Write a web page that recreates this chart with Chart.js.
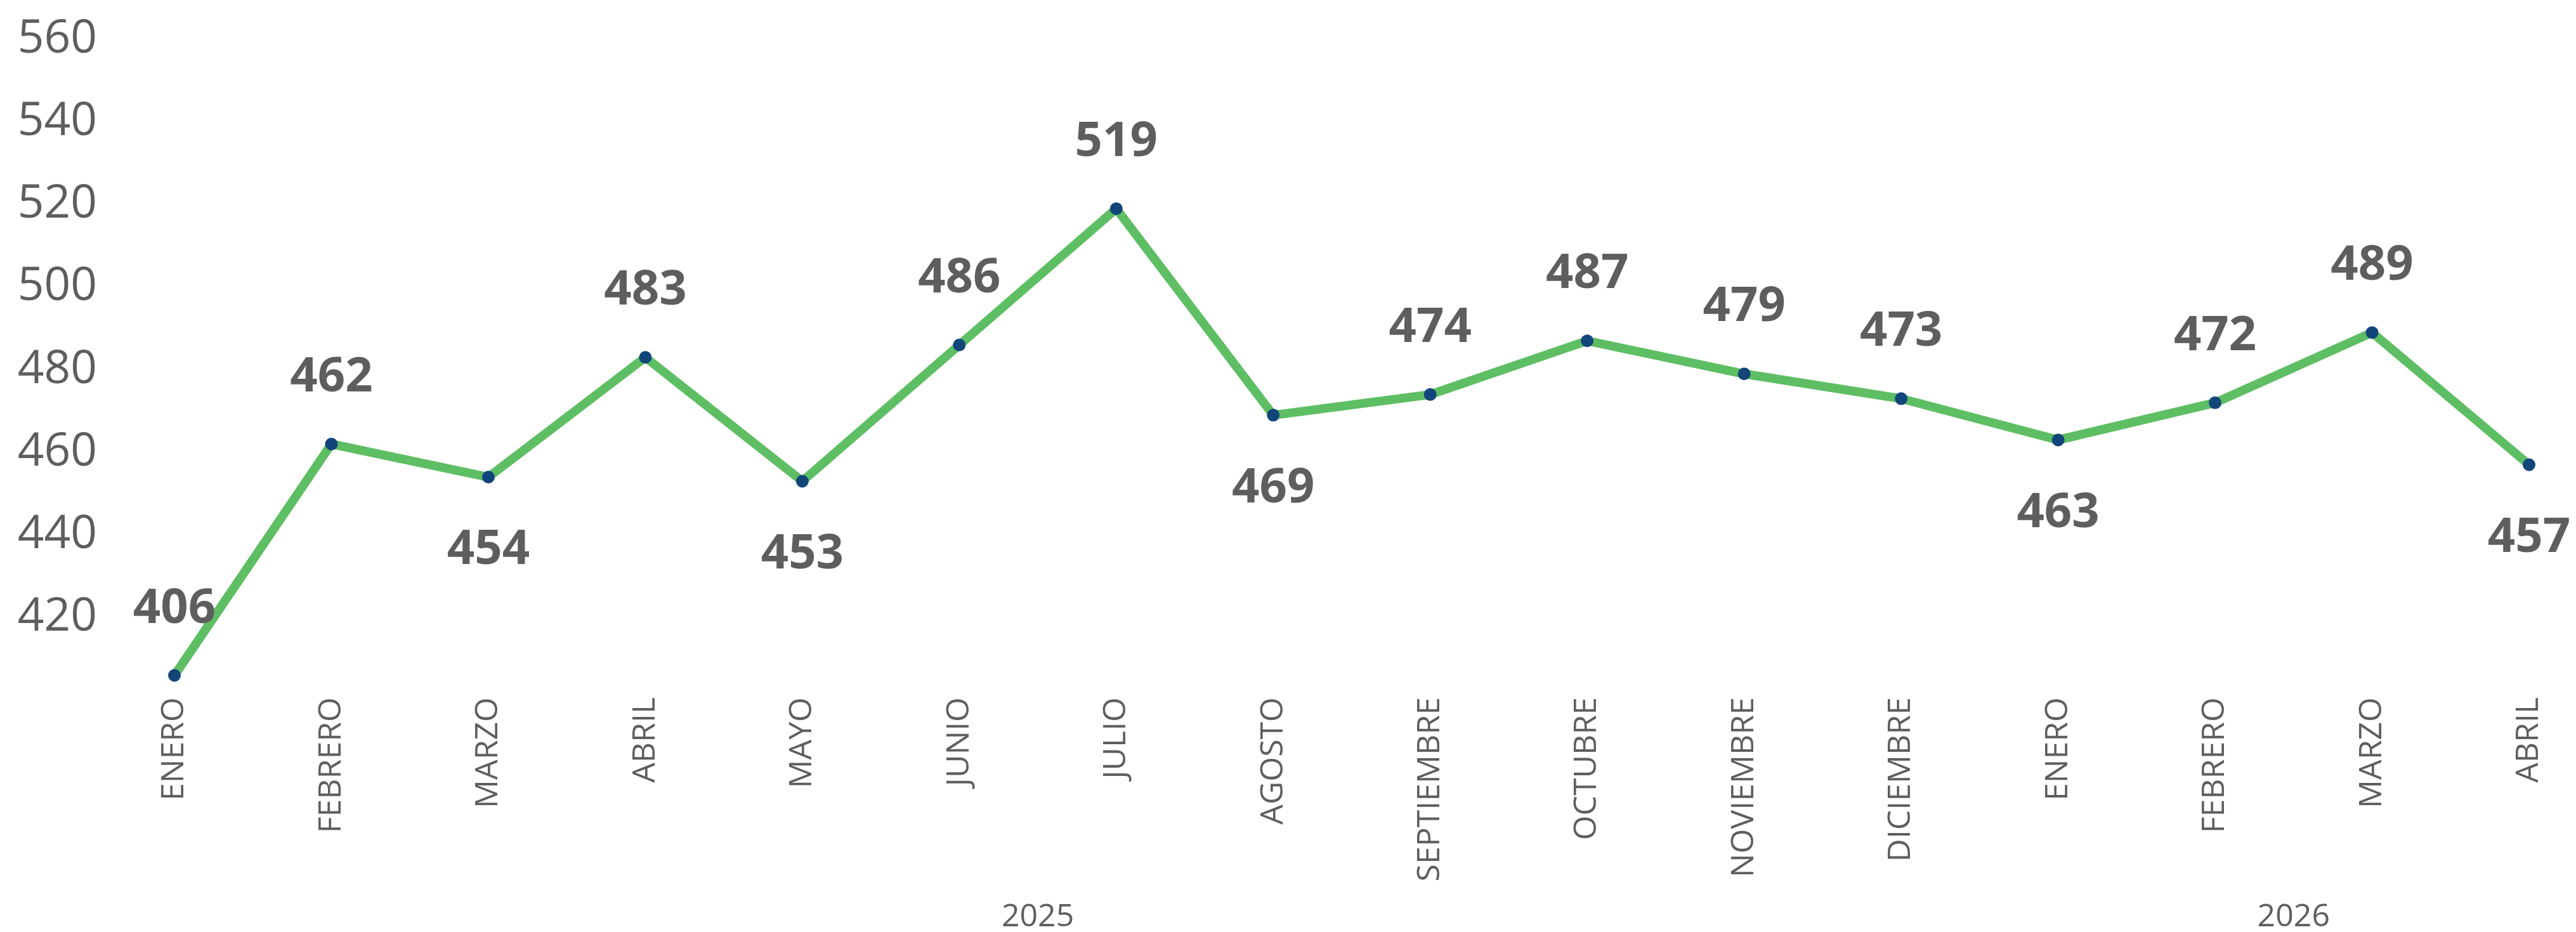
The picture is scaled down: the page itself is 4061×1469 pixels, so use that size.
<!DOCTYPE html>
<html>
<head>
<meta charset="utf-8">
<script src="https://cdn.jsdelivr.net/npm/chart.js@4/dist/chart.umd.min.js"></script>
<style>
  html, body { margin: 0; padding: 0; background: #fff; }
  #wrap { width: 4061px; height: 1469px; }
</style>
</head>
<body>
<div id="wrap"><canvas id="lineChart" width="4061" height="1469"></canvas></div>
<script>
// Data
const months = ["ENERO", "FEBRERO", "MARZO", "ABRIL", "MAYO", "JUNIO", "JULIO", "AGOSTO",
  "SEPTIEMBRE", "OCTUBRE", "NOVIEMBRE", "DICIEMBRE", "ENERO", "FEBRERO", "MARZO", "ABRIL"];
const years = ["2025", "2026"];
const monthsPerYear = [12, 4];
const values = [406, 462, 454, 483, 453, 486, 519, 469, 474, 487, 479, 473, 463, 472, 489, 457];
const yTicks = [420, 440, 460, 480, 500, 520, 540, 560];

const textColor = "#5E5E5E";

// Value labels above / below each point (centred on the digits' cap height)
const valueLabels = {
  id: "valueLabels",
  afterDatasetsDraw(chart, args, opts) {
    const ctx = chart.ctx;
    const meta = chart.getDatasetMeta(0);
    ctx.save();
    ctx.font = "bold 76px 'Open Sans'";
    ctx.fillStyle = textColor;
    ctx.textAlign = "center";
    ctx.textBaseline = "alphabetic";
    const half = 76 * 0.714 / 2;
    meta.data.forEach((pt, i) => {
      const dy = opts.below.includes(i) ? opts.offset : -opts.offset;
      ctx.fillText(String(values[i]), pt.x, pt.y + dy + half);
    });
    ctx.restore();
  }
};

// Year group labels under the month labels
const yearLabels = {
  id: "yearLabels",
  afterDraw(chart, args, opts) {
    const ctx = chart.ctx;
    const x = chart.scales.x;
    ctx.save();
    ctx.font = "50px 'Open Sans'";
    ctx.fillStyle = textColor;
    ctx.textAlign = "center";
    ctx.textBaseline = "middle";
    let start = 0;
    years.forEach((yr, k) => {
      const end = start + monthsPerYear[k] - 1;
      const cx = (x.getPixelForValue(start) + x.getPixelForValue(end)) / 2;
      ctx.fillText(yr, cx, opts.y);
      start = end + 1;
    });
    ctx.restore();
  }
};

const ctx = document.getElementById("lineChart").getContext("2d");
const lineChart = new Chart(ctx, {
  type: "line",
  data: {
    labels: months,
    datasets: [
      {
        data: values,
        borderColor: "#5EBE63",
        borderWidth: 14,
        pointRadius: 10,
        pointBackgroundColor: "#12467A",
        pointBorderWidth: 0,
        tension: 0,
      },
    ],
  },
  options: {
    responsive: false,
    animation: false,
    layout: { padding: { top: 62, right: 74, bottom: 0, left: 0 } },
    plugins: {
      legend: { display: false },
      tooltip: { enabled: false },
      valueLabels: { offset: 110, below: [2, 4, 7, 12, 15] },
      yearLabels: { y: 1446 },
    },
    scales: {
      x: {
        grid: { display: false },
        border: { display: false },
        ticks: {
          autoSkip: false,
          minRotation: 90,
          maxRotation: 90,
          padding: 7,
          color: textColor,
          font: { family: "'Open Sans'", size: 50 },
        },
        afterFit(scale) { scale.height = 385; },
      },
      y: {
        min: 403,
        max: 560,
        // transparent tick marks give the gap between labels and plot
        grid: { display: true, color: "transparent", drawTicks: true, tickLength: 112 },
        border: { display: false },
        afterBuildTicks(scale) { scale.ticks = yTicks.map(v => ({ value: v })); },
        ticks: {
          padding: 10,
          color: textColor,
          font: { family: "'Open Sans'", size: 73 },
        },
        afterFit(scale) { scale.width = 275; },
      },
    },
  },
  plugins: [valueLabels, yearLabels],
});
</script>
</body>
</html>
